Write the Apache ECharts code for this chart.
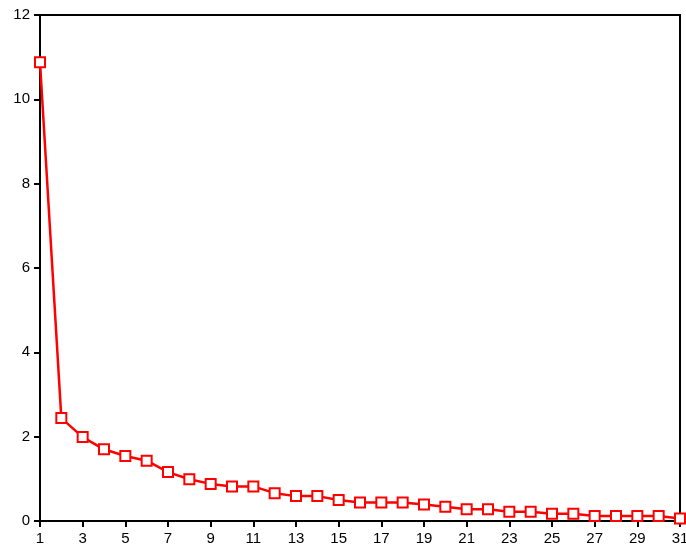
<!DOCTYPE html>
<html>
<head>
<meta charset="utf-8">
<script src="https://cdn.jsdelivr.net/npm/echarts@6/dist/echarts.min.js"></script>
<style>
  html, body { margin: 0; padding: 0; background: #fff; }
  #chart { width: 686px; height: 548px; }
</style>
</head>
<body>
<div id="chart"></div>
<script>
// x categories 1..31
const categories = ['1', '2', '3', '4', '5', '6', '7', '8', '9', '10', '11', '12', '13', '14', '15', '16',
  '17', '18', '19', '20', '21', '22', '23', '24', '25', '26', '27', '28', '29', '30', '31']
// values
const values = [10.88, 2.44, 1.99, 1.70, 1.54, 1.43, 1.16, 0.99, 0.88, 0.82, 0.82, 0.66, 0.59, 0.59, 0.50, 0.44,
  0.44, 0.44, 0.39, 0.34, 0.28, 0.28, 0.22, 0.22, 0.17, 0.17, 0.12, 0.12, 0.12, 0.12, 0.06]
const yTicks = [0, 2, 4, 6, 8, 10, 12]

const myChart = echarts.init(document.getElementById('chart'))
myChart.setOption({
  animation: false,
  grid: {
    left: 40,
    right: 6,
    top: 15,
    bottom: 27,
    outerBoundsMode: 'none',
    containLabel: false,
    show: true,
    borderColor: '#000',
    borderWidth: 2
  },
  xAxis: {
    type: 'category',
    data: categories,
    boundaryGap: false,
    axisLine: { lineStyle: { color: '#000', width: 2 } },
    axisTick: { show: true, interval: 1, length: 6, lineStyle: { color: '#000', width: 2 } },
    axisLabel: {
      interval: 1,
      color: '#000',
      fontSize: 15,
      fontFamily: 'Liberation Sans, Arial, sans-serif',
      margin: 10
    },
    splitLine: { show: false }
  },
  yAxis: {
    type: 'value',
    min: yTicks[0],
    max: yTicks[yTicks.length - 1],
    interval: 2,
    axisLine: { show: true, lineStyle: { color: '#000', width: 2 } },
    axisTick: { show: true, length: 6, lineStyle: { color: '#000', width: 2 } },
    axisLabel: {
      color: '#000',
      fontSize: 15,
      fontFamily: 'Liberation Sans, Arial, sans-serif',
      margin: 10
    },
    splitLine: { show: false }
  },
  series: [
    {
      type: 'line',
      data: values,
      symbol: 'rect',
      symbolSize: 10,
      itemStyle: { color: '#fff', borderColor: '#ff0000', borderWidth: 2 },
      lineStyle: { color: '#ff0000', width: 2.5 },
      clip: false
    }
  ]
})
</script>
</body>
</html>
